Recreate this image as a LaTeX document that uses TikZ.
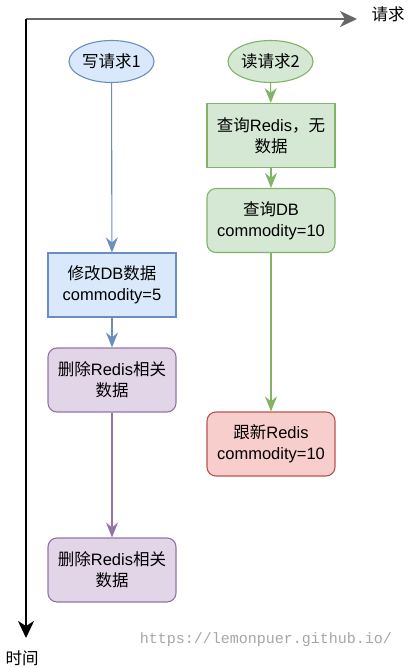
\documentclass[tikz,border=0pt]{standalone}
\usepackage{fontspec}
\setmainfont{Liberation Sans}
\setmonofont{Liberation Mono}
\newfontfamily\cjk{Noto Sans CJK SC}
\usetikzlibrary{arrows.meta, shapes.geometric}
\definecolor{blueFill}{HTML}{DAE8FC}
\definecolor{blueLine}{HTML}{6C8EBF}
\definecolor{greenFill}{HTML}{D5E8D4}
\definecolor{greenLine}{HTML}{82B366}
\definecolor{purpleFill}{HTML}{E1D5E7}
\definecolor{purpleLine}{HTML}{9673A6}
\definecolor{redFill}{HTML}{F8CECC}
\definecolor{redLine}{HTML}{B85450}
\tikzset{
	txt/.style={font=\fontsize{16.5}{21}\selectfont, align=center, inner sep=0pt},
	req/.style={txt, ellipse, draw, line width=1.1pt, minimum width=85pt, minimum height=42pt},
	stepbox/.style={txt, rectangle, draw, line width=1.1pt, minimum width=128pt, minimum height=64pt},
	roundbox/.style={stepbox, rounded corners=9pt},
	flow/.style={line width=1.1pt, -{Stealth[length=15pt, width=12pt, inset=5pt]}},
	axis/.style={line width=1.5pt, -{Stealth[length=17pt, width=16pt, inset=5pt]}}
}
\begin{document}
\begin{tikzpicture}[x=1pt, y=-1pt]
	\useasboundingbox (0,0) rectangle (413,668);
	\coordinate (O) at (26, 19);
	\coordinate (X) at (357, 19);
	\coordinate (Y) at (26, 638);
	\draw[axis, black!60] (O) -- (X);
	\draw[axis, black] (O) -- (Y);
	\node (reqLabel)  at (388,  14)	[txt]	{\cjk 请求};
	\node (timeLabel) at ( 22, 658)	[txt]	{\cjk 时间};

	\node (W0) at (111.5,  61.5)	[req, fill = blueFill, draw = blueLine]	{\cjk 写请求1};
	\node (W1) at (112, 285)	[stepbox, fill = blueFill, draw = blueLine]	{{\cjk 修改}DB{\cjk 数据}\\commodity=5};
	\node (W2) at (112, 380)	[roundbox, fill = purpleFill, draw = purpleLine]	{{\cjk 删除}Redis{\cjk 相关}\\{\cjk 数据}};
	\node (W3) at (112, 570)	[roundbox, fill = purpleFill, draw = purpleLine]	{{\cjk 删除}Redis{\cjk 相关}\\{\cjk 数据}};

	\node (R0) at (270.5,  61.5)	[req, fill = greenFill, draw = greenLine]	{\cjk 读请求2};
	\node (R1) at (271, 135.5)	[stepbox, fill = greenFill, draw = greenLine]	{{\cjk 查询}Redis{\cjk ，无}\\{\cjk 数据}};
	\node (R2) at (271, 220.5)	[roundbox, fill = greenFill, draw = greenLine]	{{\cjk 查询}DB\\commodity=10};
	\node (R3) at (271, 444)	[roundbox, fill = redFill, draw = redLine]	{{\cjk 跟新}Redis\\commodity=10};

	\draw[flow, blueLine] (W0) -- (W1);
	\draw[flow, blueLine] (W1) -- (W2);
	\draw[flow, purpleLine] (W2) -- (W3);
	\draw[flow, greenLine] (R0) -- (R1);
	\draw[flow, greenLine] (R1) -- (R2);
	\draw[flow, greenLine] (R2) -- (R3);

	\node (site) at (266, 640)	[inner sep=0pt, font=\ttfamily\fontsize{15}{15}\selectfont, text=black!35]	{https://lemonpuer.github.io/};
\end{tikzpicture}
\end{document}
